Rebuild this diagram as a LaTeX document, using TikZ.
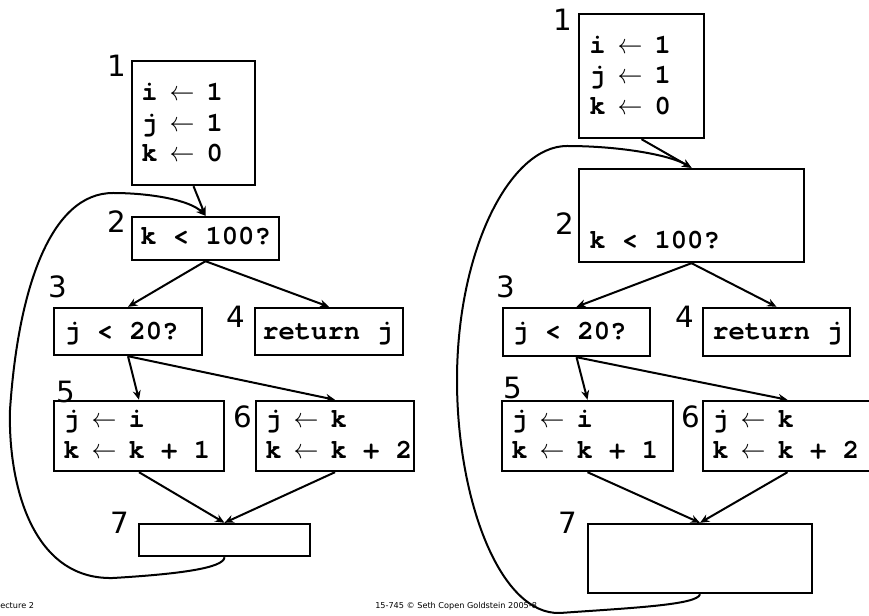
\documentclass[tikz,border=0pt]{standalone}
\usepackage{fontspec}
\usepackage{graphicx}
\usetikzlibrary{arrows.meta,fit}
\newfontfamily\codefont{TeX Gyre Cursor}
\newfontfamily\labfont{DejaVu Sans}
\newcommand\codearrow{\makebox[0.6em]{\scalebox{0.9}[1]{$\leftarrow$}}}
\begin{document}
\begin{tikzpicture}[x=0.75pt,y=-0.75pt,
  box/.style={draw,line width=1.8pt,inner sep=0pt},
  code/.style={font=\codefont\bfseries\fontsize{20.4}{24}\selectfont,anchor=base west,inner sep=0pt},
  num/.style={font=\labfont\fontsize{22}{22}\selectfont,inner sep=0pt},
  arr/.style={line width=1.5pt,-{Stealth[length=7pt,width=6pt]}},
  foot/.style={font=\labfont\fontsize{6.1}{7}\selectfont,anchor=base west,inner sep=0pt}]
\useasboundingbox (0,0) rectangle (869,616);
% ---------- left graph ----------
\node[box,fit={(132,61)(255,185)}] (L1) {};
\node[box,fit={(132,217)(279,260)}] (L2) {};
\node[box,fit={(54,308)(202,355)}] (L3) {};
\node[box,fit={(255,308)(403,355)}] (L4) {};
\node[box,fit={(54,401)(224,471)}] (L5) {};
\node[box,fit={(256,401)(414,471)}] (L6) {};
\node[box,fit={(139,524)(310,556)}] (L7) {};
\node[code] (L1a) at (141,101) {i \codearrow{} 1};
\node[code] (L1b) at (141,132) {j \codearrow{} 1};
\node[code] (L1c) at (141,162) {k \codearrow{} 0};
\node[code] (L2a) at (140,245) {k < 100?};
\node[code] (L3a) at (64,340) {j < 20?};
\node[code] (L4a) at (262,340) {return j};
\node[code] (L5a) at (63,428) {j \codearrow{} i};
\node[code] (L5b) at (63,459) {k \codearrow{} k + 1};
\node[code] (L6a) at (265,428) {j \codearrow{} k};
\node[code] (L6b) at (265,459) {k \codearrow{} k + 2};
\node[num] (nL1) at (117,66) {1};
\node[num] (nL2) at (117,222) {2};
\node[num] (nL3) at (58,287) {3};
\node[num] (nL4) at (236,317) {4};
\node[num] (nL5) at (66,392) {5};
\node[num] (nL6) at (243,417) {6};
\node[num] (nL7) at (120,523) {7};
\draw[arr] (L1.south) -- (L2.north);
\draw[arr] (L2.south) -- (L3.north);
\draw[arr] (L2.south) -- (L4.north);
\draw[arr] (L3.south) -- (L5.north);
\draw[arr] (L3.south) -- (L6.north);
\draw[arr] (L5.south) -- (L7.north);
\draw[arr] (L6.south) -- (L7.north);
\draw[arr] (L7.south) .. controls (224,568) and (180,574) .. (113,578)
  .. controls (30,580) and (8,480) .. (10,410)
  .. controls (18,290) and (50,193) .. (113,193)
  .. controls (150,193) and (190,200) .. (L2.north);
% ---------- right graph ----------
\node[box,fit={(579,14)(704,138)}] (R1) {};
\node[box,fit={(579,169)(804,262)}] (R2) {};
\node[box,fit={(503,308)(650,356)}] (R3) {};
\node[box,fit={(703,308)(850,356)}] (R4) {};
\node[box,fit={(502,401)(673,471)}] (R5) {};
\node[box,fit={(703,401)(872,471)}] (R6) {};
\node[box,fit={(588,524)(812,593)}] (R7) {};
\node[code] (R1a) at (589,54) {i \codearrow{} 1};
\node[code] (R1b) at (589,84) {j \codearrow{} 1};
\node[code] (R1c) at (589,115) {k \codearrow{} 0};
\node[code] (R2a) at (589,249) {k < 100?};
\node[code] (R3a) at (512,340) {j < 20?};
\node[code] (R4a) at (712,340) {return j};
\node[code] (R5a) at (511,428) {j \codearrow{} i};
\node[code] (R5b) at (511,459) {k \codearrow{} k + 1};
\node[code] (R6a) at (712,428) {j \codearrow{} k};
\node[code] (R6b) at (712,459) {k \codearrow{} k + 2};
\node[num] (nR1) at (563,20) {1};
\node[num] (nR2) at (565,224) {2};
\node[num] (nR3) at (506,287) {3};
\node[num] (nR4) at (685,317) {4};
\node[num] (nR5) at (513,388) {5};
\node[num] (nR6) at (691,417) {6};
\node[num] (nR7) at (568,523) {7};
\draw[arr] (R1.south) -- (R2.north);
\draw[arr] (R2.south) -- (R3.north);
\draw[arr] (R2.south) -- (R4.north);
\draw[arr] (R3.south) -- (R5.north);
\draw[arr] (R3.south) -- (R6.north);
\draw[arr] (R5.south) -- (R7.north);
\draw[arr] (R6.south) -- (R7.north);
\draw[arr] (R7.south) .. controls (698,605) and (630,608) .. (560,613)
  .. controls (500,615) and (457,500) .. (457,380)
  .. controls (457,250) and (510,146) .. (567,146)
  .. controls (620,146) and (670,155) .. (R2.north);
% ---------- footer ----------
\node[foot] (f1) at (0,609) {ecture 2};
\node[foot] (f2) at (375,609) {15-745 \textcopyright{} Seth Copen Goldstein 2005-8};
\end{tikzpicture}
\end{document}
